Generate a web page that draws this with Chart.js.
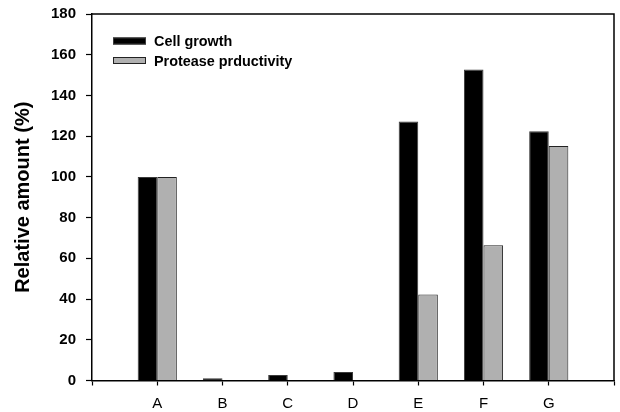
<!DOCTYPE html>
<html>
<head>
<meta charset="utf-8">
<script src="https://cdn.jsdelivr.net/npm/chart.js@4/dist/chart.umd.min.js"></script>
<style>
  html, body { margin: 0; padding: 0; background: #ffffff; }
  #wrap { width: 620px; height: 412px; position: relative; }
</style>
</head>
<body>
<div id="wrap"><canvas id="chart" width="620" height="412"></canvas></div>
<script>
// Categories (blank slots pad the axis at both ends)
const categories = ['', 'A', 'B', 'C', 'D', 'E', 'F', 'G', ''];
// Relative amounts (%)
const cellGrowth = [null, 100, 1.1, 2.7, 4.2, 127.2, 152.8, 122.4, null];
const proteaseProductivity = [null, 100, 0, 0, 0, 42.2, 66.4, 115.2, null];
const seriesNames = ['Cell growth', 'Protease prductivity'];
const yTicks = [0, 20, 40, 60, 80, 100, 120, 140, 160, 180];

const FONT = "'Liberation Sans', Arial, sans-serif";

// Closes the frame along the top and right of the plot area
const frame = {
  id: 'frame',
  afterDraw(chart) {
    const { ctx, chartArea: a } = chart;
    ctx.save();
    ctx.strokeStyle = '#000';
    ctx.lineWidth = 1.5;
    ctx.beginPath();
    ctx.moveTo(a.left, a.top);
    ctx.lineTo(a.right, a.top);
    ctx.lineTo(a.right, a.bottom);
    ctx.stroke();
    ctx.restore();
  }
};

// Legend drawn inside the plot, upper left
const innerLegend = {
  id: 'innerLegend',
  afterDraw(chart) {
    const { ctx, chartArea: a } = chart;
    ctx.save();
    ctx.font = `bold 14.4px ${FONT}`;
    ctx.textBaseline = 'middle';
    chart.data.datasets.forEach((ds, i) => {
      const x = a.left + 21;
      const y = a.top + 23.5 + i * 19.5;
      ctx.fillStyle = ds.backgroundColor;
      ctx.fillRect(x, y, 33, 7);
      ctx.strokeStyle = ds.borderColor;
      ctx.lineWidth = 1;
      ctx.strokeRect(x + 0.5, y + 0.5, 32, 6);
      ctx.fillStyle = '#000';
      ctx.fillText(ds.label, x + 41, y + 5);
    });
    ctx.restore();
  }
};

new Chart(document.getElementById('chart'), {
  type: 'bar',
  data: {
    labels: categories,
    datasets: [
      {
        label: seriesNames[0],
        data: cellGrowth,
        backgroundColor: '#000000',
        borderColor: '#3a3a3a',
        borderWidth: 1,
        categoryPercentage: 0.6,
        barPercentage: 1.0
      },
      {
        label: seriesNames[1],
        data: proteaseProductivity,
        backgroundColor: '#b0b0b0',
        borderColor: '#222222',
        borderWidth: 1,
        categoryPercentage: 0.6,
        barPercentage: 1.0
      }
    ]
  },
  options: {
    responsive: false,
    animation: false,
    devicePixelRatio: 1,
    layout: { padding: { left: 0, top: 14, right: 6, bottom: 0 } },
    plugins: {
      legend: { display: false },
      tooltip: { enabled: false }
    },
    scales: {
      x: {
        type: 'category',
        offset: false,
        grid: {
          offset: false,
          drawOnChartArea: false,
          tickLength: 5,
          tickColor: '#000',
          tickWidth: 1.2
        },
        border: { display: true, color: '#000', width: 1.5 },
        ticks: {
          color: '#000',
          font: { family: FONT, size: 15, weight: 'normal' },
          padding: 9,
          maxRotation: 0,
          autoSkip: false
        },
        afterFit(scale) {
          scale.height = 31.5;
          scale.paddingLeft = 0;
          scale.paddingRight = 0;
        }
      },
      y: {
        min: 0,
        max: 180,
        afterBuildTicks(scale) { scale.ticks = yTicks.map(v => ({ value: v })); },
        grid: {
          drawOnChartArea: false,
          tickLength: 6,
          tickColor: '#000',
          tickWidth: 1.2
        },
        border: { display: true, color: '#000', width: 1.5 },
        ticks: {
          color: '#000',
          font: { family: FONT, size: 15, weight: 'bold' },
          padding: 10
        },
        title: {
          display: true,
          text: 'Relative amount (%)',
          color: '#000',
          font: { family: FONT, size: 20, weight: 'bold' },
          padding: { top: 11, bottom: 0 }
        },
        afterFit(scale) {
          scale.width = 92;
          scale.paddingTop = 0;
          scale.paddingBottom = 0;
        }
      }
    }
  },
  plugins: [frame, innerLegend]
});
</script>
</body>
</html>
